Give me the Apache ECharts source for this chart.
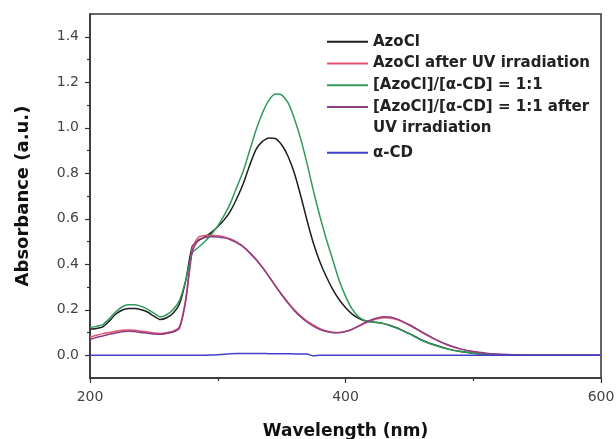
<!DOCTYPE html>
<html>
<head>
<meta charset="utf-8">
<script src="https://cdn.jsdelivr.net/npm/echarts@6/dist/echarts.min.js"></script>
<style>
  html, body { margin: 0; padding: 0; background: #fff; }
  #chart { width: 616px; height: 439px; }
</style>
</head>
<body>
<div id="chart"></div>
<script>
// wavelength grid (nm)
const wavelengths = [
  200, 205, 210, 215, 220, 225, 230, 235, 240, 245,
  250, 255, 260, 265, 270, 275, 280, 285, 290, 295,
  300, 305, 310, 315, 320, 325, 330, 335, 340, 345,
  350, 355, 360, 365, 370, 375, 380, 385, 390, 395,
  400, 405, 410, 415, 420, 425, 430, 435, 440, 445,
  450, 460, 470, 480, 490, 500, 510, 520, 540, 560,
  580, 600
];
const azoCl = [
  0.115, 0.118, 0.125, 0.150, 0.180, 0.198, 0.205, 0.205, 0.200, 0.190,
  0.172, 0.157, 0.165, 0.185, 0.225, 0.330, 0.478, 0.505, 0.520, 0.540,
  0.565, 0.595, 0.635, 0.690, 0.755, 0.835, 0.905, 0.940, 0.955, 0.953,
  0.925, 0.875, 0.800, 0.700, 0.590, 0.490, 0.410, 0.345, 0.290, 0.245,
  0.210, 0.182, 0.163, 0.152, 0.147, 0.144, 0.139, 0.131, 0.121, 0.108,
  0.095, 0.066, 0.045, 0.028, 0.016, 0.009, 0.005, 0.002, 0.000, 0.000,
  0.000, 0.000
];
const azoClUV = [
  0.080, 0.088, 0.095, 0.100, 0.105, 0.110, 0.111, 0.110, 0.106, 0.102,
  0.098, 0.096, 0.100, 0.106, 0.125, 0.250, 0.470, 0.520, 0.526, 0.527,
  0.525, 0.520, 0.511, 0.497, 0.478, 0.452, 0.422, 0.387, 0.348, 0.307,
  0.268, 0.232, 0.200, 0.172, 0.150, 0.132, 0.117, 0.107, 0.101, 0.100,
  0.104, 0.113, 0.126, 0.140, 0.151, 0.160, 0.165, 0.164, 0.157, 0.146,
  0.132, 0.100, 0.070, 0.045, 0.027, 0.015, 0.008, 0.004, 0.001, 0.000,
  0.000, 0.000
];
const complex11 = [
  0.122, 0.127, 0.135, 0.160, 0.190, 0.212, 0.222, 0.222, 0.215, 0.203,
  0.185, 0.168, 0.178, 0.200, 0.240, 0.330, 0.450, 0.475, 0.500, 0.532,
  0.568, 0.615, 0.670, 0.740, 0.810, 0.900, 0.990, 1.065, 1.120, 1.148,
  1.145, 1.110, 1.040, 0.950, 0.840, 0.720, 0.610, 0.510, 0.420, 0.330,
  0.260, 0.205, 0.170, 0.153, 0.146, 0.144, 0.139, 0.130, 0.120, 0.107,
  0.094, 0.065, 0.044, 0.027, 0.016, 0.009, 0.005, 0.002, 0.000, 0.000,
  0.000, 0.000
];
const complex11UV = [
  0.070, 0.078, 0.085, 0.092, 0.098, 0.103, 0.105, 0.104, 0.100, 0.097,
  0.093, 0.092, 0.096, 0.102, 0.118, 0.240, 0.455, 0.508, 0.518, 0.521,
  0.520, 0.516, 0.508, 0.494, 0.476, 0.450, 0.420, 0.385, 0.346, 0.305,
  0.266, 0.229, 0.196, 0.168, 0.145, 0.127, 0.113, 0.104, 0.099, 0.099,
  0.104, 0.114, 0.128, 0.143, 0.155, 0.164, 0.169, 0.168, 0.160, 0.148,
  0.134, 0.102, 0.071, 0.046, 0.028, 0.016, 0.009, 0.004, 0.001, 0.000,
  0.000, 0.000
];
const alphaCD = [
  0.000, 0.000, 0.000, 0.000, 0.000, 0.000, 0.000, 0.000, 0.000, 0.000,
  0.000, 0.000, 0.000, 0.000, 0.000, 0.000, 0.000, 0.000, 0.000, 0.001,
  0.002, 0.004, 0.007, 0.008, 0.008, 0.008, 0.008, 0.008, 0.007, 0.007,
  0.007, 0.007, 0.006, 0.006, 0.005, -0.003, 0.000, 0.000, 0.000, 0.000,
  0.000, 0.000, 0.000, 0.000, 0.000, 0.000, 0.000, 0.000, 0.000, 0.000,
  0.000, 0.000, 0.000, 0.000, 0.000, 0.000, 0.000, 0.000, 0.000, 0.000,
  0.000, 0.000
];
const yMajorTicks = [0, 0.2, 0.4, 0.6, 0.8, 1.0, 1.2, 1.4];
const yMinorTicks = [0.1, 0.3, 0.5, 0.7, 0.9, 1.1, 1.3];

const names = [
  'AzoCl',
  'AzoCl after UV irradiation',
  '[AzoCl]/[α-CD] = 1:1',
  '[AzoCl]/[α-CD] = 1:1 after',
  'α-CD'
];
const colors = ['#1e1e1e', '#e4506e', '#2f9a5a', '#8a3f84', '#4040cc'];
const values = [azoCl, azoClUV, complex11, complex11UV, alphaCD];

const font = 'DejaVu Sans';
const axisColor = '#333';

const myChart = echarts.init(document.getElementById('chart'));

const legendText = {
  fontFamily: font,
  fontWeight: 'bold',
  fontSize: 15,
  color: '#222',
  lineHeight: 21.7
};

myChart.setOption({
  animation: false,
  grid: {
    left: 90,
    right: 15,
    top: 14,
    bottom: 61,
    outerBoundsMode: 'none',
    show: true,
    borderColor: axisColor,
    borderWidth: 1.5,
    backgroundColor: 'transparent'
  },
  legend: [
    {
      data: names.slice(0, 4),
      orient: 'vertical',
      left: 327,
      top: 31,
      padding: 0,
      itemGap: 0,
      itemWidth: 41,
      itemHeight: 2,
      icon: 'rect',
      textStyle: legendText
    },
    {
      data: names.slice(4),
      orient: 'vertical',
      left: 327,
      top: 142,
      padding: 0,
      itemGap: 0,
      itemWidth: 41,
      itemHeight: 2,
      icon: 'rect',
      textStyle: legendText
    }
  ],
  graphic: [
    {
      type: 'text',
      left: 373,
      top: 121,
      style: {
        text: 'UV irradiation',
        font: 'bold 15px "DejaVu Sans"',
        fill: '#222'
      }
    }
  ],
  xAxis: {
    type: 'value',
    min: 200,
    max: 600,
    interval: 200,
    name: 'Wavelength (nm)',
    nameLocation: 'middle',
    nameGap: 45,
    nameTextStyle: { fontFamily: font, fontWeight: 'bold', fontSize: 17, color: '#111' },
    axisLine: { onZero: false, lineStyle: { color: axisColor, width: 1.5 } },
    axisTick: { length: 5, lineStyle: { color: axisColor, width: 1.2 } },
    minorTick: { show: true, splitNumber: 2, length: 3, lineStyle: { color: axisColor, width: 1.2 } },
    axisLabel: { fontFamily: font, fontSize: 14, color: '#444', margin: 12 },
    splitLine: { show: false }
  },
  yAxis: [
    {
      type: 'value',
      min: -0.1,
      max: 1.5,
      position: 'left',
      name: 'Absorbance (a.u.)',
      nameLocation: 'middle',
      nameGap: 58,
      nameTextStyle: { fontFamily: font, fontWeight: 'bold', fontSize: 18, color: '#111' },
      axisLine: { show: true, onZero: false, lineStyle: { color: axisColor, width: 1.5 } },
      axisTick: { show: true, length: 5, customValues: yMajorTicks, lineStyle: { color: axisColor, width: 1.2 } },
      axisLabel: {
        fontFamily: font, fontSize: 14, color: '#444', margin: 11,
        customValues: yMajorTicks,
        formatter: v => v.toFixed(1)
      },
      splitLine: { show: false }
    },
    {
      type: 'value',
      min: -0.1,
      max: 1.5,
      position: 'left',
      offset: 0,
      axisLine: { show: false, onZero: false },
      axisTick: { show: true, length: 3, customValues: yMinorTicks, lineStyle: { color: axisColor, width: 1.2 } },
      axisLabel: { show: false },
      splitLine: { show: false }
    }
  ],
  series: values.map((arr, i) => ({
    name: names[i],
    type: 'line',
    yAxisIndex: 0,
    showSymbol: false,
    smooth: 0.2,
    color: colors[i],
    lineStyle: { color: colors[i], width: 1.5 },
    data: wavelengths.map((w, j) => [w, arr[j]])
  }))
});
</script>
</body>
</html>
